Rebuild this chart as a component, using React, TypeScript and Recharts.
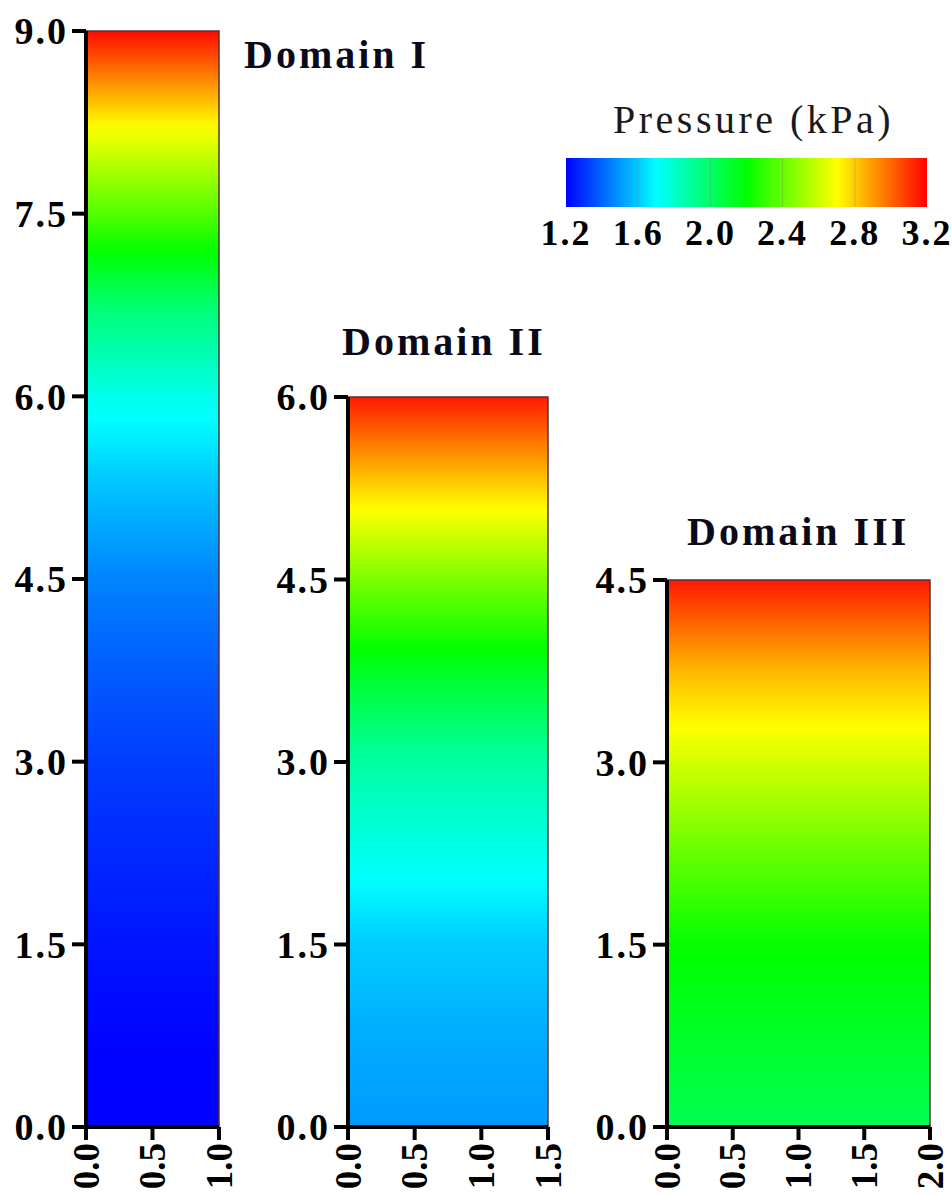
import React from "react";
import {
  ComposedChart,
  XAxis,
  YAxis,
  ReferenceArea,
  ReferenceLine,
} from "recharts";

// colour scale (kPa) used by the legend and by the three domains
const scaleValues = [1.2, 1.7, 2.2, 2.7, 3.2];
const scaleColors = ["#0000ff", "#00ffff", "#00ff00", "#ffff00", "#ff0000"];
const legendTicks = [1.2, 1.6, 2.0, 2.4, 2.8, 3.2];
const legendSeparators = [1.6, 2.0, 2.4, 2.8];

// Domain I : 1.0 wide, 9.0 high
const domainIHeights = [0, 0.75, 1.5, 2.25, 3.0, 3.75, 4.5, 5.25, 6.0, 6.75, 7.5, 8.25, 9.0];
const domainIPressure = [1.2, 1.21, 1.24, 1.28, 1.32, 1.38, 1.46, 1.58, 1.74, 1.98, 2.36, 2.72, 3.18];
const domainIXTicks = [0, 0.5, 1.0];
const domainIYTicks = [0, 1.5, 3.0, 4.5, 6.0, 7.5, 9.0];

// Domain II : 1.5 wide, 6.0 high
const domainIIHeights = [0, 0.75, 1.5, 2.25, 3.0, 3.75, 4.5, 5.25, 6.0];
const domainIIPressure = [1.5, 1.54, 1.6, 1.74, 1.88, 2.13, 2.44, 2.78, 3.15];
const domainIIXTicks = [0, 0.5, 1.0, 1.5];
const domainIIYTicks = [0, 1.5, 3.0, 4.5, 6.0];

// Domain III : 2.0 wide, 4.5 high
const domainIIIHeights = [0, 0.75, 1.5, 2.25, 3.0, 3.75, 4.5];
const domainIIIPressure = [2.04, 2.12, 2.21, 2.4, 2.61, 2.84, 3.15];
const domainIIIXTicks = [0, 0.5, 1.0, 1.5, 2.0];
const domainIIIYTicks = [0, 1.5, 3.0, 4.5];

const FONT = "'Liberation Serif', 'Times New Roman', serif";

function hexToRgb(hex: string) {
  const n = parseInt(hex.slice(1), 16);
  return [(n >> 16) & 255, (n >> 8) & 255, n & 255];
}

function pressureColor(p: number) {
  const v = Math.min(Math.max(p, scaleValues[0]), scaleValues[scaleValues.length - 1]);
  let i = 0;
  while (i < scaleValues.length - 2 && v > scaleValues[i + 1]) i++;
  const t = (v - scaleValues[i]) / (scaleValues[i + 1] - scaleValues[i]);
  const a = hexToRgb(scaleColors[i]);
  const b = hexToRgb(scaleColors[i + 1]);
  const c = a.map((x, k) => Math.round(x + (b[k] - x) * t));
  return `rgb(${c[0]},${c[1]},${c[2]})`;
}

// vertical gradient stops from a height / pressure profile
function profileStops(heights: number[], pressure: number[]) {
  const top = heights[heights.length - 1];
  const stops: { offset: number; color: string }[] = [];
  for (let i = 0; i < heights.length - 1; i++) {
    const steps = 8;
    for (let k = 0; k < steps; k++) {
      const f = k / steps;
      const h = heights[i] + (heights[i + 1] - heights[i]) * f;
      const p = pressure[i] + (pressure[i + 1] - pressure[i]) * f;
      stops.push({ offset: h / top, color: pressureColor(p) });
    }
  }
  stops.push({ offset: 1, color: pressureColor(pressure[pressure.length - 1]) });
  return stops;
}

function RotatedTick(props: any) {
  const { x, y, payload } = props;
  return (
    <text
      x={x}
      y={y}
      transform={`rotate(-90 ${x} ${y})`}
      textAnchor="end"
      dominantBaseline="central"
      fontFamily={FONT}
      fontWeight="bold"
      fontSize={37}
      fill="#000"
    >
      {Number(payload.value).toFixed(1)}
    </text>
  );
}

interface DomainProps {
  id: string;
  left: number;
  width: number;
  top: number;
  yAxisWidth: number;
  xMax: number;
  heights: number[];
  pressure: number[];
  xTicks: number[];
  yTicks: number[];
}

function DomainChart({ id, left, width, top, yAxisWidth, xMax, heights, pressure, xTicks, yTicks }: DomainProps) {
  const yMax = heights[heights.length - 1];
  const stops = profileStops(heights, pressure);
  return (
    <div style={{ position: "absolute", left, top: 0 }}>
      <ComposedChart
        width={width}
        height={1196}
        margin={{ top, right: 22, bottom: 0, left: 0 }}
      >
        <defs>
          <linearGradient id={id} x1="0" y1="1" x2="0" y2="0">
            {stops.map((s, i) => (
              <stop key={i} offset={s.offset} stopColor={s.color} />
            ))}
          </linearGradient>
        </defs>
        <XAxis
          type="number"
          dataKey="x"
          domain={[0, xMax]}
          ticks={xTicks}
          allowDataOverflow
          height={69}
          axisLine={{ stroke: "#000", strokeWidth: 4 }}
          tickLine={{ stroke: "#000", strokeWidth: 4 }}
          tickSize={13}
          tickMargin={3}
          interval={0}
          tick={<RotatedTick />}
        />
        <YAxis
          type="number"
          domain={[0, yMax]}
          ticks={yTicks}
          allowDataOverflow
          width={yAxisWidth}
          axisLine={{ stroke: "#000", strokeWidth: 4 }}
          tickLine={{ stroke: "#000", strokeWidth: 4 }}
          tickSize={14}
          tickMargin={4}
          interval={0}
          tickFormatter={(v: number) => v.toFixed(1)}
          tick={{
            fill: "#000",
            fontFamily: FONT,
            fontWeight: "bold",
            fontSize: 38,
            letterSpacing: 2,
          }}
        />
        <ReferenceArea
          x1={0}
          x2={xMax}
          y1={0}
          y2={yMax}
          fill={`url(#${id})`}
          fillOpacity={1}
          stroke="#553333"
          strokeWidth={1.5}
          isAnimationActive={false}
        />
      </ComposedChart>
    </div>
  );
}

function Legend() {
  return (
    <div style={{ position: "absolute", left: 500, top: 0 }}>
      <ComposedChart
        width={452}
        height={260}
        margin={{ top: 158, right: 25, bottom: 0, left: 66 }}
      >
        <defs>
          <linearGradient id="legendGrad" x1="0" y1="0" x2="1" y2="0">
            {scaleValues.map((v, i) => (
              <stop
                key={v}
                offset={(v - scaleValues[0]) / (scaleValues[scaleValues.length - 1] - scaleValues[0])}
                stopColor={scaleColors[i]}
              />
            ))}
          </linearGradient>
        </defs>
        <XAxis
          type="number"
          dataKey="x"
          domain={[1.2, 3.2]}
          ticks={legendTicks}
          allowDataOverflow
          height={53}
          axisLine={false}
          tickLine={false}
          tickSize={0}
          tickMargin={12}
          interval={0}
          tickFormatter={(v: number) => v.toFixed(1)}
          tick={{
            fill: "#000",
            fontFamily: FONT,
            fontWeight: "bold",
            fontSize: 36,
            letterSpacing: 2,
          }}
        />
        <YAxis type="number" domain={[0, 1]} allowDataOverflow hide />
        <ReferenceArea
          x1={1.2}
          x2={3.2}
          y1={0}
          y2={1}
          fill="url(#legendGrad)"
          fillOpacity={1}
          stroke="none"
          isAnimationActive={false}
        />
        {legendSeparators.map((v) => (
          <ReferenceLine
            key={v}
            x={v}
            stroke="#777"
            strokeOpacity={0.3}
            strokeWidth={1}
          />
        ))}
      </ComposedChart>
    </div>
  );
}

export default function App() {
  const titleStyle = {
    fontFamily: FONT,
    fontWeight: "bold" as const,
    fontSize: 40,
    letterSpacing: 3,
    fill: "#0a0a1a",
  };
  return (
    <div
      style={{
        position: "absolute",
        left: 0,
        top: 0,
        width: 952,
        height: 1196,
        background: "#fff",
        overflow: "hidden",
      }}
    >
      <DomainChart
        id="gradI"
        left={0}
        width={241}
        top={31}
        yAxisWidth={86}
        xMax={1.0}
        heights={domainIHeights}
        pressure={domainIPressure}
        xTicks={domainIXTicks}
        yTicks={domainIYTicks}
      />
      <DomainChart
        id="gradII"
        left={260}
        width={310}
        top={397}
        yAxisWidth={88}
        xMax={1.5}
        heights={domainIIHeights}
        pressure={domainIIPressure}
        xTicks={domainIIXTicks}
        yTicks={domainIIYTicks}
      />
      <DomainChart
        id="gradIII"
        left={580}
        width={372}
        top={580}
        yAxisWidth={87}
        xMax={2.0}
        heights={domainIIIHeights}
        pressure={domainIIIPressure}
        xTicks={domainIIIXTicks}
        yTicks={domainIIIYTicks}
      />
      <Legend />
      <svg
        width={952}
        height={1196}
        style={{ position: "absolute", left: 0, top: 0, pointerEvents: "none" }}
      >
        <text x={244} y={68} {...titleStyle}>Domain I</text>
        <text x={342} y={355} {...titleStyle}>Domain II</text>
        <text x={687} y={545} {...titleStyle}>Domain III</text>
        <text
          x={613}
          y={133}
          fontFamily={FONT}
          fontSize={40}
          letterSpacing={3.5}
          fill="#1a1a1a"
        >
          Pressure (kPa)
        </text>
      </svg>
    </div>
  );
}
